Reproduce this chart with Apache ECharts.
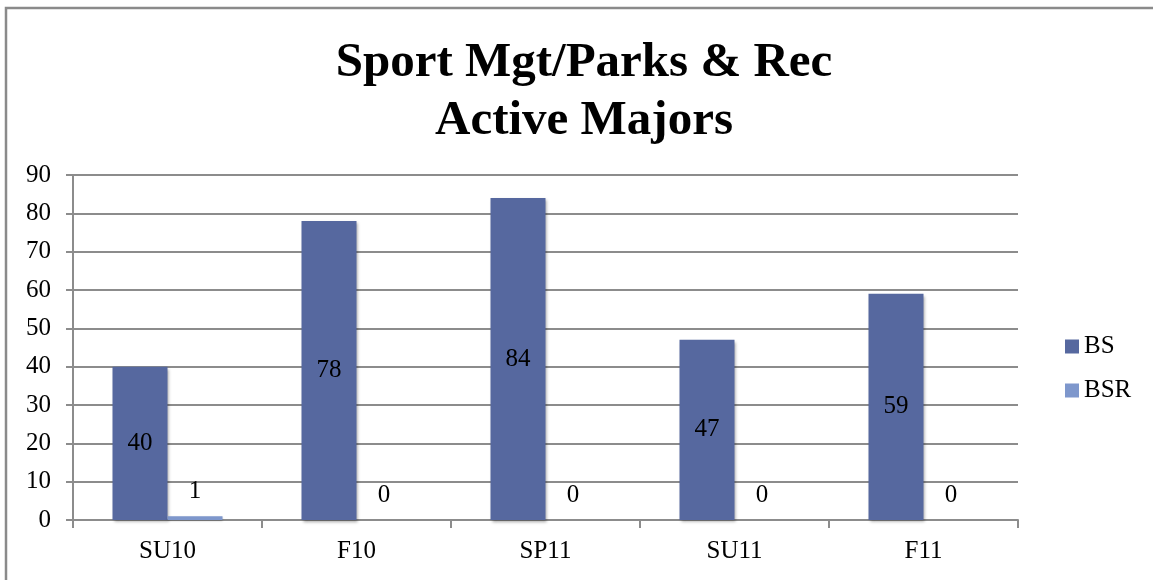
<!DOCTYPE html>
<html>
<head>
<meta charset="utf-8">
<title>Sport Mgt/Parks & Rec Active Majors</title>
<script src="https://cdn.jsdelivr.net/npm/echarts@6/dist/echarts.min.js"></script>
<style>
  html, body { margin: 0; padding: 0; background: #fff; }
  #chart { width: 1153px; height: 580px; }
</style>
</head>
<body>
<div id="chart"></div>
<script>
// data
var terms = ['SU10', 'F10', 'SP11', 'SU11', 'F11'];
var bsValues = [40, 78, 84, 47, 59];
var bsrValues = [1, 0, 0, 0, 0];
var yTicks = [0, 10, 20, 30, 40, 50, 60, 70, 80, 90];

var serif = '"Liberation Serif", "DejaVu Serif", serif';
var gridGray = '#8c8c8c';

var myChart = echarts.init(document.getElementById('chart'));

var option = {
  backgroundColor: '#fff',
  textStyle: { fontFamily: serif },
  title: {
    text: 'Sport Mgt/Parks & Rec\nActive Majors',
    left: 579,
    top: 29,
    textAlign: 'center',
    textStyle: {
      fontFamily: serif,
      fontWeight: 'bold',
      fontSize: 49,
      lineHeight: 58,
      color: '#000'
    }
  },
  // outer frame of the chart box
  graphic: [{
    type: 'rect',
    shape: { x: 6, y: 8, width: 1200, height: 700 },
    style: { fill: 'none', stroke: '#8a8a8a', lineWidth: 2.5 },
    silent: true
  }],
  legend: {
    orient: 'vertical',
    left: 1060,
    top: 329,
    itemWidth: 14,
    itemHeight: 14,
    itemGap: 19,
    icon: 'rect',
    textStyle: { fontFamily: serif, fontSize: 25, color: '#000' },
    data: ['BS', 'BSR']
  },
  grid: {
    left: 73,
    right: 135,
    top: 175,
    bottom: 60,
    containLabel: false
  },
  xAxis: {
    type: 'category',
    data: terms,
    axisLine: { show: true, lineStyle: { color: gridGray, width: 2 } },
    axisTick: { show: true, length: 8, alignWithLabel: false, lineStyle: { color: gridGray, width: 2 } },
    axisLabel: { fontFamily: serif, fontSize: 25, color: '#000', margin: 19 }
  },
  yAxis: {
    type: 'value',
    min: yTicks[0],
    max: yTicks[yTicks.length - 1],
    interval: 10,
    axisLine: { show: true, lineStyle: { color: gridGray, width: 2 } },
    axisTick: { show: true, length: 7, lineStyle: { color: gridGray, width: 2 } },
    axisLabel: { fontFamily: serif, fontSize: 25, color: '#000', margin: 22 },
    splitLine: { show: true, lineStyle: { color: gridGray, width: 2 } }
  },
  series: [{
    name: 'BS',
    type: 'bar',
    data: bsValues,
    barWidth: 55,
    barGap: '0%',
    itemStyle: {
      color: '#56689f',
      shadowColor: 'rgba(0,0,0,0.35)',
      shadowBlur: 3,
      shadowOffsetX: 1,
      shadowOffsetY: 2
    },
    label: {
      show: true,
      position: 'inside',
      fontFamily: serif,
      fontSize: 25,
      color: '#000'
    }
  }, {
    name: 'BSR',
    type: 'bar',
    data: bsrValues,
    barWidth: 55,
    itemStyle: {
      color: '#7e97cc',
      shadowColor: 'rgba(0,0,0,0.25)',
      shadowBlur: 2,
      shadowOffsetY: 1
    },
    label: {
      show: true,
      position: 'top',
      distance: 12,
      fontFamily: serif,
      fontSize: 25,
      color: '#000'
    }
  }]
};

myChart.setOption(option);
window.onresize = myChart.resize;
</script>
</body>
</html>
